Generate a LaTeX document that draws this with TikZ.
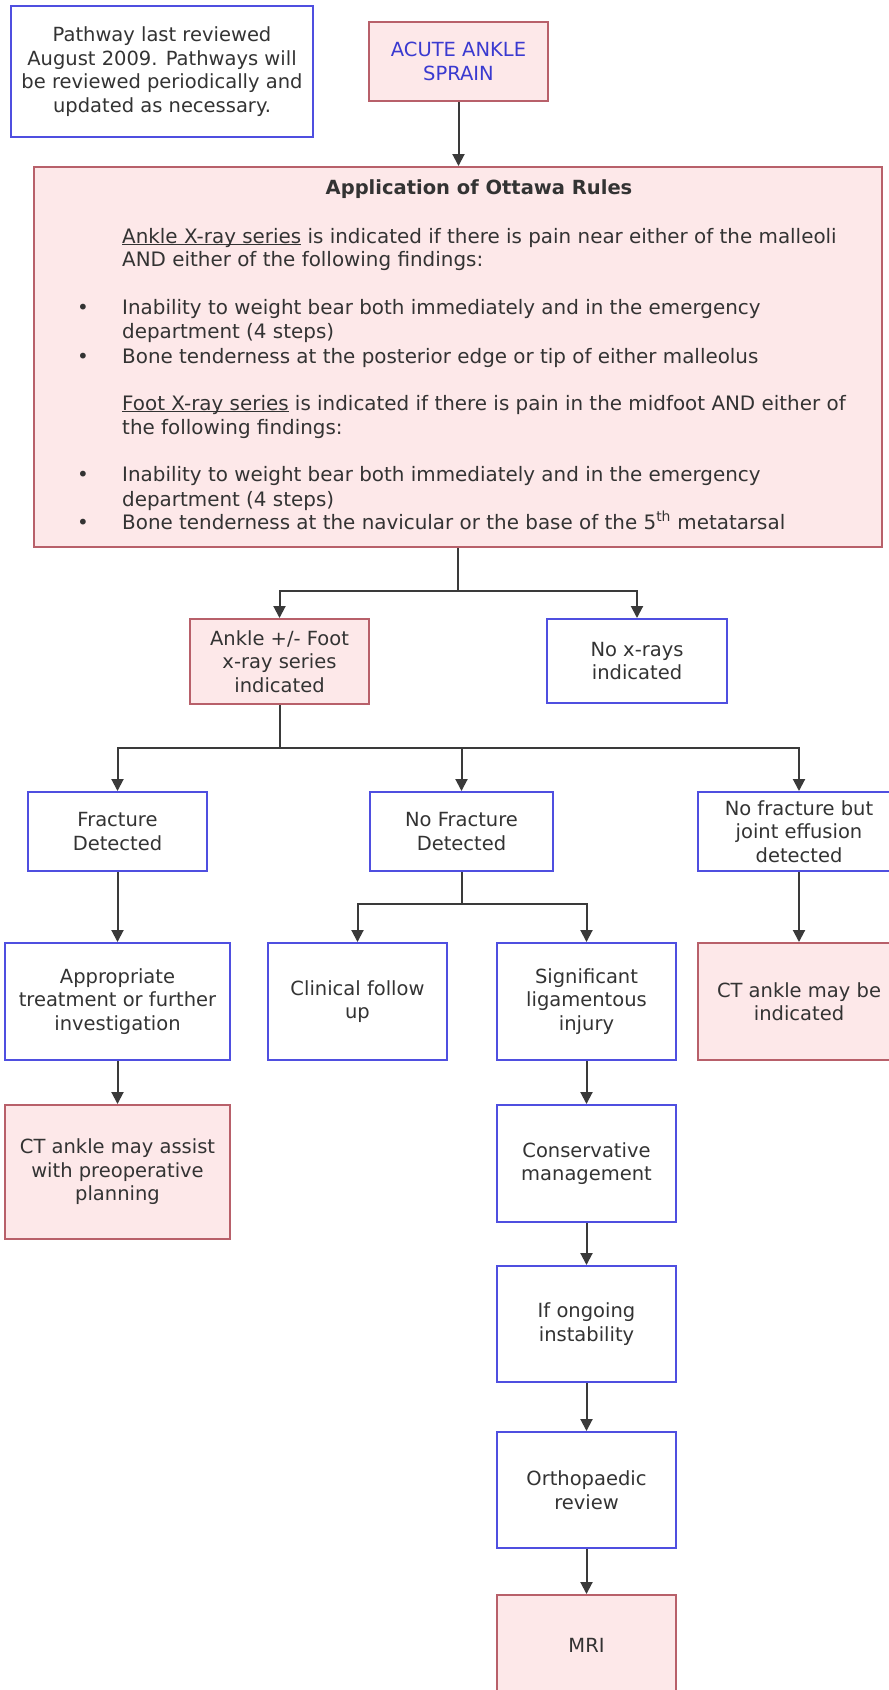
\documentclass[tikz,border=0pt]{standalone}
\usepackage{fontspec}
\setmainfont{DejaVu Sans}
\usetikzlibrary{arrows.meta}
\definecolor{pinkfill}{HTML}{FDE8E9}
\definecolor{pinkdraw}{HTML}{B8606A}
\definecolor{bluedraw}{HTML}{4F4FE0}
\definecolor{txt}{HTML}{333333}
\definecolor{acuteblue}{HTML}{3A3AD0}
\definecolor{linec}{HTML}{3A3A3A}
\newcommand{\ulinetext}[1]{\underline{\smash{#1}}}
\begin{document}
\begin{tikzpicture}[x=1pt,y=-1pt,
  box/.style={draw, line width=2pt, rectangle, inner sep=0pt, align=center, text=txt, font=\fontsize{19.5}{23.5}\selectfont},
  pinkbox/.style={box, draw=pinkdraw, fill=pinkfill},
  bluebox/.style={box, draw=bluedraw, fill=white},
  conn/.style={draw=linec, line width=2pt},
  arr/.style={conn, -{Triangle[length=12pt,width=12pt]}},
  ln/.style={anchor=base west, inner sep=0pt, text=txt, font=\fontsize{19.9}{24}\selectfont},
  bul/.style={anchor=base, inner sep=0pt, text=txt, font=\fontsize{19.9}{24}\selectfont}]
\useasboundingbox (0,0) rectangle (889,1690);
\clip (0,0) rectangle (889,1690);
\fill[white] (0,0) rectangle (889,1690);

% top
\node[bluebox, minimum width=302pt, minimum height=131pt] (note) at (162,71.5)
  {Pathway last reviewed\\August 2009. Pathways will\\be reviewed periodically and\\updated as necessary.};
\node[pinkbox, minimum width=179pt, minimum height=79pt, text=acuteblue] (acute) at (458.5,61.5)
  {ACUTE ANKLE\\SPRAIN};

% Ottawa rules
\node[pinkbox, minimum width=848pt, minimum height=380pt] (ottawa) at (458,357) {};
\node[anchor=base, inner sep=0pt, text=txt, font=\fontsize{19.5}{24}\selectfont\bfseries] (otitle) at (479,194) {Application of Ottawa Rules};
\node[ln] (a1) at (122,243) {\ulinetext{Ankle X-ray series} is indicated if there is pain near either of the malleoli};
\node[ln] (a2) at (122,266) {AND either of the following findings:};
\node[bul] (b1) at (83,314) {•};
\node[ln] (b1t) at (122,314) {Inability to weight bear both immediately and in the emergency};
\node[ln] (b1u) at (122,338) {department (4 steps)};
\node[bul] (b2) at (83,363) {•};
\node[ln] (b2t) at (122,363) {Bone tenderness at the posterior edge or tip of either malleolus};
\node[ln] (f1) at (122,410) {\ulinetext{Foot X-ray series} is indicated if there is pain in the midfoot AND either of};
\node[ln] (f2) at (122,434) {the following findings:};
\node[bul] (c1) at (83,481) {•};
\node[ln] (c1t) at (122,481) {Inability to weight bear both immediately and in the emergency};
\node[ln] (c1u) at (122,506) {department (4 steps)};
\node[bul] (c2) at (83,529) {•};
\node[ln] (c2t) at (122,529) {Bone tenderness at the navicular or the base of the 5\textsuperscript{th} metatarsal};

% second row
\node[pinkbox, minimum width=179pt, minimum height=85pt] (ankle) at (279.5,661.5) {Ankle +/- Foot\\x-ray series\\indicated};
\node[bluebox, minimum width=180pt, minimum height=84pt] (noxray) at (637,661) {No x-rays\\indicated};

% third row
\node[bluebox, minimum width=179pt, minimum height=79pt] (fracture) at (117.5,831.5) {Fracture\\Detected};
\node[bluebox, minimum width=183pt, minimum height=79pt] (nofract) at (461.5,831.5) {No Fracture\\Detected};
\node[bluebox, minimum width=202pt, minimum height=79pt] (effusion) at (799,831.5) {No fracture but\\joint effusion\\detected};

% fourth row
\node[bluebox, minimum width=225pt, minimum height=117pt] (approp) at (117.5,1001.5) {Appropriate\\treatment or further\\investigation};
\node[bluebox, minimum width=179pt, minimum height=117pt] (clinical) at (357.5,1001.5) {Clinical follow\\up};
\node[bluebox, minimum width=179pt, minimum height=117pt] (signif) at (586.5,1001.5) {Significant\\ligamentous\\injury};
\node[pinkbox, minimum width=202pt, minimum height=117pt] (ctind) at (799,1001.5) {CT ankle may be\\indicated};

% lower
\node[pinkbox, minimum width=225pt, minimum height=134pt] (ctassist) at (117.5,1172) {CT ankle may assist\\with preoperative\\planning};
\node[bluebox, minimum width=179pt, minimum height=117pt] (conserv) at (586.5,1163.5) {Conservative\\management};
\node[bluebox, minimum width=179pt, minimum height=116pt] (ongoing) at (586.5,1324) {If ongoing\\instability};
\node[bluebox, minimum width=179pt, minimum height=116pt] (ortho) at (586.5,1490) {Orthopaedic\\review};
\node[pinkbox, minimum width=179pt, minimum height=100pt] (mri) at (586.5,1645) {MRI};

% junctions
\coordinate (j1) at (458,591);
\coordinate (j2) at (279.5,748);
\coordinate (j3) at (461.5,904);

% connectors
\draw[arr] (acute.south) -- (acute.south |- ottawa.north);
\draw[conn] (ottawa.south -| j1) -- (j1);
\draw[arr] (j1) -| (ankle.north);
\draw[arr] (j1) -| (noxray.north);
\draw[conn] (ankle.south) -- (j2);
\draw[arr] (j2) -| (fracture.north);
\draw[arr] (j2) -| (effusion.north);
\draw[arr] (nofract.north |- j2) -- (nofract.north);
\draw[arr] (fracture.south) -- (approp.north);
\draw[conn] (nofract.south) -- (j3);
\draw[arr] (j3) -| (clinical.north);
\draw[arr] (j3) -| (signif.north);
\draw[arr] (effusion.south) -- (ctind.north);
\draw[arr] (approp.south) -- (ctassist.north);
\draw[arr] (signif.south) -- (conserv.north);
\draw[arr] (conserv.south) -- (ongoing.north);
\draw[arr] (ongoing.south) -- (ortho.north);
\draw[arr] (ortho.south) -- (mri.north);
\end{tikzpicture}
\end{document}
